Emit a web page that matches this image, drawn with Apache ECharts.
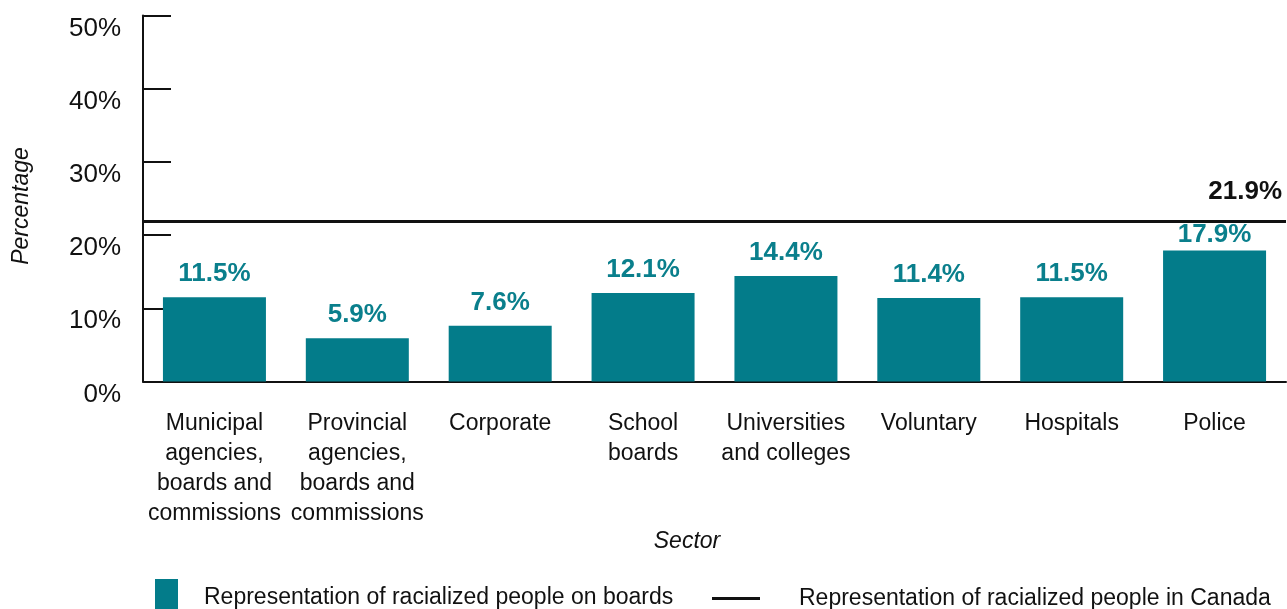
<!DOCTYPE html>
<html>
<head>
<meta charset="utf-8">
<script src="https://cdn.jsdelivr.net/npm/echarts@6/dist/echarts.min.js"></script>
<style>
  html, body { margin: 0; padding: 0; background: #fff; }
  #chart { width: 1287px; height: 609px; }
</style>
</head>
<body>
<div id="chart"></div>
<script>
// Sectors shown along the horizontal axis
const sectors = [
  'Municipal\nagencies,\nboards and\ncommissions',
  'Provincial\nagencies,\nboards and\ncommissions',
  'Corporate',
  'School\nboards',
  'Universities\nand colleges',
  'Voluntary',
  'Hospitals',
  'Police'
];
// Share of board members who are racialized, by sector (%)
const boardShare = [11.5, 5.9, 7.6, 12.1, 14.4, 11.4, 11.5, 17.9];
// Share of racialized people in the Canadian population (%)
const canadaShare = 21.9;
// Vertical axis range
const yTicks = { min: 0, max: 50, interval: 10 };

const TEAL = '#037c8a';
const FONT = 'Liberation Sans, Arial, Helvetica, sans-serif';

// Bars close to the reference line get their label tucked in closer to the bar top
const barData = boardShare.map(v => (
  canadaShare - v < 5 ? { value: v, label: { distance: 3 } } : v
));

const chart = echarts.init(document.getElementById('chart'));
chart.setOption({
  animation: false,
  textStyle: { fontFamily: FONT },
  grid: { left: 143, right: 1, top: 15.5, bottom: 227.5, containLabel: false },
  legend: [
    {
      data: [{ name: 'Representation of racialized people on boards', icon: 'rect' }],
      left: 155, top: 579, padding: 0,
      itemWidth: 23, itemHeight: 37,
      selectedMode: false,
      textStyle: { fontSize: 23, color: '#111', fontFamily: FONT, padding: [0, 0, 0, 21] }
    },
    {
      data: [{ name: 'Representation of racialized people in Canada', icon: 'rect' }],
      left: 712, top: 587, padding: 0,
      itemWidth: 48, itemHeight: 3,
      selectedMode: false,
      textStyle: { fontSize: 23, color: '#111', fontFamily: FONT, padding: [0, 0, 0, 34] }
    }
  ],
  xAxis: {
    type: 'category',
    data: sectors,
    axisLine: { lineStyle: { color: '#111', width: 2 } },
    axisTick: { show: false },
    axisLabel: {
      interval: 0,
      margin: 27,
      fontSize: 23,
      lineHeight: 30,
      color: '#111',
      fontFamily: FONT,
      align: 'center'
    }
  },
  yAxis: {
    type: 'value',
    min: yTicks.min, max: yTicks.max, interval: yTicks.interval,
    axisLine: { show: true, lineStyle: { color: '#111', width: 2 } },
    axisTick: { show: true, inside: true, length: 28, lineStyle: { color: '#111', width: 2 } },
    splitLine: { show: false },
    axisLabel: {
      formatter: '{value}%',
      fontSize: 26,
      lineHeight: 26,
      color: '#111',
      fontFamily: FONT,
      margin: 22,
      verticalAlign: 'top'
    }
  },
  series: [
    {
      name: 'Representation of racialized people on boards',
      type: 'bar',
      data: barData,
      barWidth: 103,
      itemStyle: { color: TEAL },
      label: {
        show: true,
        position: 'top',
        distance: 10,
        formatter: '{c}%',
        fontSize: 26,
        fontWeight: 'bold',
        color: '#0a7f8c',
        fontFamily: FONT
      }
    },
    {
      name: 'Representation of racialized people in Canada',
      type: 'line',
      data: [],
      itemStyle: { color: '#111' },
      lineStyle: { color: '#111', width: 3 },
      markLine: {
        silent: true,
        symbol: ['none', 'none'],
        lineStyle: { color: '#111', width: 3, type: 'solid' },
        label: {
          show: true,
          position: 'insideEndTop',
          distance: [4, 16],
          formatter: canadaShare.toFixed(1) + '%',
          fontSize: 26,
          fontWeight: 'bold',
          color: '#111',
          fontFamily: FONT
        },
        data: [{ yAxis: canadaShare }]
      }
    }
  ],
  graphic: [
    {
      type: 'text',
      x: 22, y: 206,
      rotation: Math.PI / 2,
      style: {
        text: 'Percentage',
        fontSize: 23,
        fontStyle: 'italic',
        fill: '#111',
        fontFamily: FONT,
        textAlign: 'center',
        textVerticalAlign: 'middle'
      }
    },
    {
      type: 'text',
      x: 687, y: 542,
      style: {
        text: 'Sector',
        fontSize: 23,
        fontStyle: 'italic',
        fill: '#111',
        fontFamily: FONT,
        textAlign: 'center',
        textVerticalAlign: 'middle'
      }
    }
  ]
});
</script>
</body>
</html>
